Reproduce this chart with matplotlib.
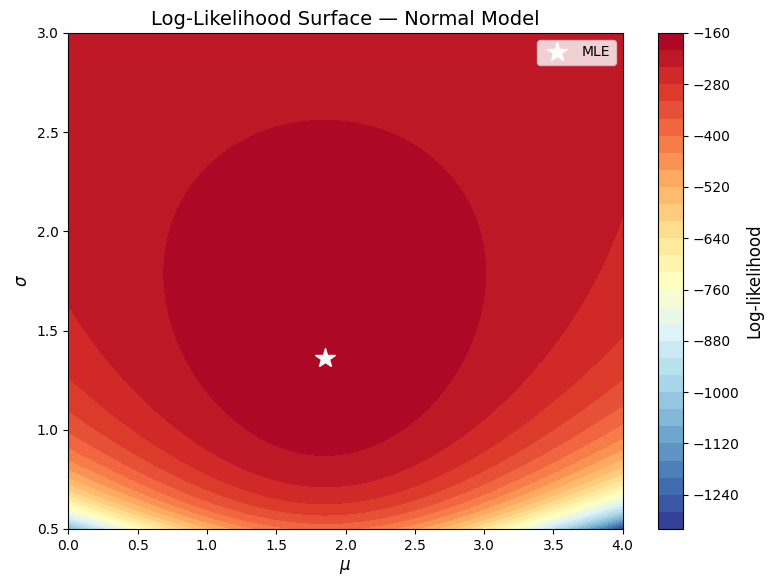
import numpy as np
import matplotlib
matplotlib.use("Agg")
import matplotlib.pyplot as plt

# Sample summary (data behind the likelihood surface)
n_obs = 100
sample_mean = 1.85
sample_sd = 1.36

mu_range = [0.0, 4.0]
sigma_range = [0.5, 3.0]
levels = np.arange(-1320, -159, 40)

mu = np.linspace(mu_range[0], mu_range[1], 400)
sigma = np.linspace(sigma_range[0], sigma_range[1], 400)
M, S = np.meshgrid(mu, sigma)
ss = n_obs * sample_sd**2
LL = (-n_obs / 2 * np.log(2 * np.pi) - n_obs * np.log(S)
      - (ss + n_obs * (sample_mean - M) ** 2) / (2 * S**2))

W, H = 777, 587
fig = plt.figure(figsize=(W / 100, H / 100), dpi=100)
ax = fig.add_axes([68.3 / W, (H - 529) / H, (622.7 - 68.3) / W, (529 - 33) / H])
cax = fig.add_axes([658.3 / W, (H - 529) / H, 25 / W, (529 - 33) / H])
cf = ax.contourf(M, S, LL, levels=levels, cmap="RdYlBu_r")
cb = fig.colorbar(cf, cax=cax)
cb.set_label("Log-likelihood", fontsize=12)
ax.plot([sample_mean], [sample_sd], marker="*", color="white", markersize=15,
        linestyle="none", label="MLE")
ax.set_xlabel(r"$\mu$", fontsize=12)
ax.set_ylabel(r"$\sigma$", fontsize=12)
ax.set_title("Log-Likelihood Surface — Normal Model", fontsize=14)
ax.legend(loc="upper right")
fig.savefig("out.png", dpi=100)
